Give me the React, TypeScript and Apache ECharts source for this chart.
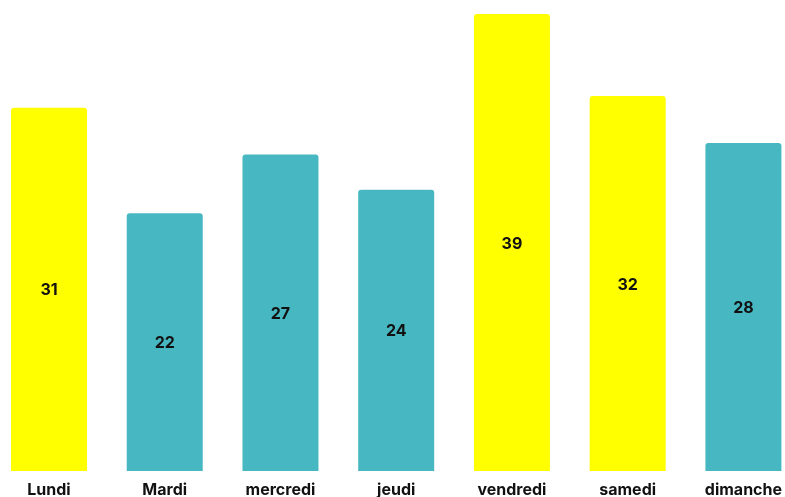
import React, { useEffect, useRef } from "react";
import * as echarts from "echarts";

const categories = ["Lundi", "Mardi", "mercredi", "jeudi", "vendredi", "samedi", "dimanche"];
const values = [31, 22, 27, 24, 39, 32, 28];
const barColors = ["#FFFF00", "#47B8C2", "#47B8C2", "#47B8C2", "#FFFF00", "#FFFF00", "#47B8C2"];

export default function App() {
  const ref = useRef<HTMLDivElement>(null);
  useEffect(() => {
    if (!ref.current) return;
    const chart = echarts.init(ref.current, undefined, { renderer: "svg" });
    chart.setOption({
      animation: false,
      grid: { left: 49, right: 41.5, top: 14, bottom: 26, containLabel: false },
      xAxis: {
        type: "category",
        data: categories,
        boundaryGap: false,
        axisLine: { show: false },
        axisTick: { show: false },
        axisLabel: {
          color: "#111",
          fontWeight: "bold",
          fontSize: 16,
          lineHeight: 12,
          fontFamily: "Inter",
          margin: 12,
        },
      },
      yAxis: {
        type: "value",
        min: 0,
        max: 39,
        show: false,
        splitLine: { show: false },
      },
      series: [
        {
          type: "bar",
          barWidth: 76,
          data: values.map((v, i) => ({ value: v, itemStyle: { color: barColors[i] } })),
          itemStyle: { borderRadius: [3, 3, 0, 0] },
          label: {
            show: true,
            position: "inside",
            color: "#111",
            fontWeight: "bold",
            fontSize: 16,
            fontFamily: "Inter",
          },
        },
      ],
    });
    return () => chart.dispose();
  }, []);
  return <div ref={ref} style={{ position: "fixed", left: 0, top: 0, width: 785, height: 497 }} />;
}
